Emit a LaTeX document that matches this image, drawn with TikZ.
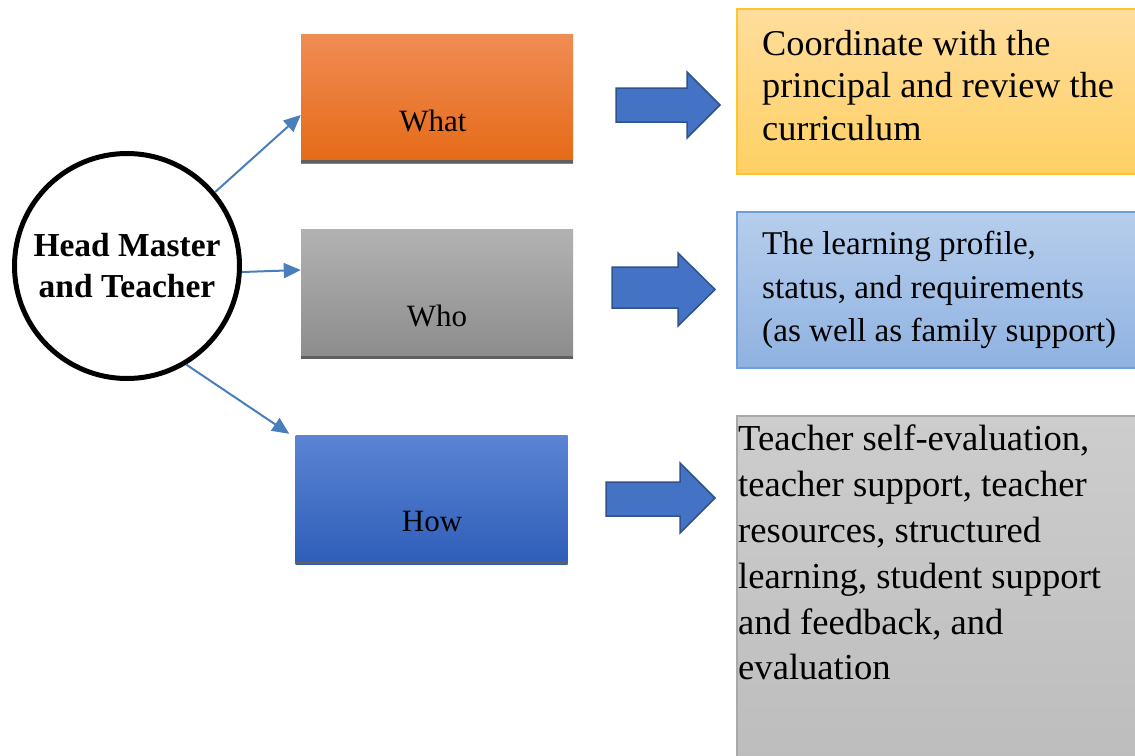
\documentclass[tikz,border=0pt]{standalone}
\usepackage{fontspec}
\setmainfont{Liberation Serif}
\usetikzlibrary{arrows.meta,calc}
\definecolor{orTop}{HTML}{F08C55}
\definecolor{orBot}{HTML}{E56A16}
\definecolor{grTop}{HTML}{B2B2B2}
\definecolor{grBot}{HTML}{8C8C8C}
\definecolor{blTop}{HTML}{5B84D3}
\definecolor{blBot}{HTML}{2E5EB9}
\definecolor{yeTop}{HTML}{FFDD9C}
\definecolor{yeBot}{HTML}{FFD064}
\definecolor{yeBorder}{HTML}{FFC52E}
\definecolor{lbTop}{HTML}{B7CEEC}
\definecolor{lbBot}{HTML}{8FB2E1}
\definecolor{lbBorder}{HTML}{6C9FDB}
\definecolor{rgTop}{HTML}{CDCDCD}
\definecolor{rgBot}{HTML}{BDBDBD}
\definecolor{rgBorder}{HTML}{A9A9A9}
\definecolor{strip}{HTML}{5F5F5F}
\definecolor{connCol}{HTML}{4A7EBB}
\definecolor{arrFill}{HTML}{4472C4}
\definecolor{arrDraw}{HTML}{2F528F}
\begin{document}
\begin{tikzpicture}[x=1pt,y=-1pt,
  leftbox/.style={rectangle, minimum width=272pt, minimum height=129pt, inner sep=0pt, draw=none},
  boxlabel/.style={anchor=base, inner sep=0pt, font=\fontsize{31}{37}\selectfont},
  rightbox/.style={rectangle, inner sep=0pt, line width=1.2pt},
  righttext/.style={anchor=north west, inner sep=0pt, align=left},
  conn/.style={draw=connCol, line width=2pt, -{Triangle[length=17pt,width=15pt]}},
  blockarrow/.style={fill=arrFill, draw=arrDraw, line width=1.5pt, line join=miter},
  stripline/.style={draw=strip, line width=3pt}
]
\useasboundingbox (0,0) rectangle (1135,755);

% right boxes
\node[rightbox, draw=yeBorder, top color=yeTop, bottom color=yeBot, minimum width=403pt, minimum height=165pt] (ybox) at (938.5,91.5) {};
\node[rightbox, draw=lbBorder, top color=lbTop, bottom color=lbBot, minimum width=403pt, minimum height=156pt] (bbox) at (938.5,290) {};
\node[rightbox, draw=rgBorder, top color=rgTop, bottom color=rgBot, minimum width=403pt, minimum height=344pt] (gbox) at (938.5,588) {};

\node[righttext, font=\fontsize{36.3}{42.5}\selectfont] (ytext) at (762,30) {Coordinate with the\\principal and review the\\curriculum};
\node[righttext, font=\fontsize{33.2}{43.5}\selectfont] (btext) at (762,231) {The learning profile,\\status, and requirements\\(as well as family support)};
\node[righttext, font=\fontsize{36.6}{45.8}\selectfont] (gtext) at (738,425) {Teacher self-evaluation,\\teacher support, teacher\\resources, structured\\learning, student support\\and feedback, and\\evaluation};

% left boxes
\node[leftbox, top color=orTop, bottom color=orBot] (what) at (437,98.5) {};
\node[leftbox, top color=grTop, bottom color=grBot] (who) at (437,294) {};
\node[leftbox, top color=blTop, bottom color=blBot] (how) at (431.5,499.5) {};
\draw[stripline] ([yshift=1.5pt]what.south west) -- ([yshift=1.5pt]what.south east);
\draw[stripline] ([yshift=1.5pt]who.south west) -- ([yshift=1.5pt]who.south east);
\draw[stripline] ([yshift=1.5pt]how.south west) -- ([yshift=1.5pt]how.south east);
\node[boxlabel] (whatT) at (433,131) {What};
\node[boxlabel] (whoT) at (437,326) {Who};
\node[boxlabel] (howT) at (432,531) {How};

% block arrows
\draw[blockarrow] (616,88) -- (687,88) -- (687,72) -- (720,105) -- (687,138) -- (687,122) -- (616,122) -- cycle;
\draw[blockarrow] (612,267) -- (678,267) -- (678,253) -- (715,289.5) -- (678,326) -- (678,308) -- (612,308) -- cycle;
\draw[blockarrow] (606,482) -- (680,482) -- (680,463) -- (715,498) -- (680,533) -- (680,516) -- (606,516) -- cycle;

% circle
\node[circle, draw=black, line width=5pt, minimum size=225pt, inner sep=0pt, align=center,
      font=\bfseries\fontsize{33.5}{41}\selectfont] (hm) at (127,266) {Head Master\\and Teacher};

% connectors
\draw[conn] (hm.40) -- ([yshift=-16.5pt]what.west);
\draw[conn] (hm.-3) -- ([yshift=24pt]who.west);
\draw[conn] (hm.-59) -- ([xshift=-6pt,yshift=1pt]how.north west);
\end{tikzpicture}
\end{document}
